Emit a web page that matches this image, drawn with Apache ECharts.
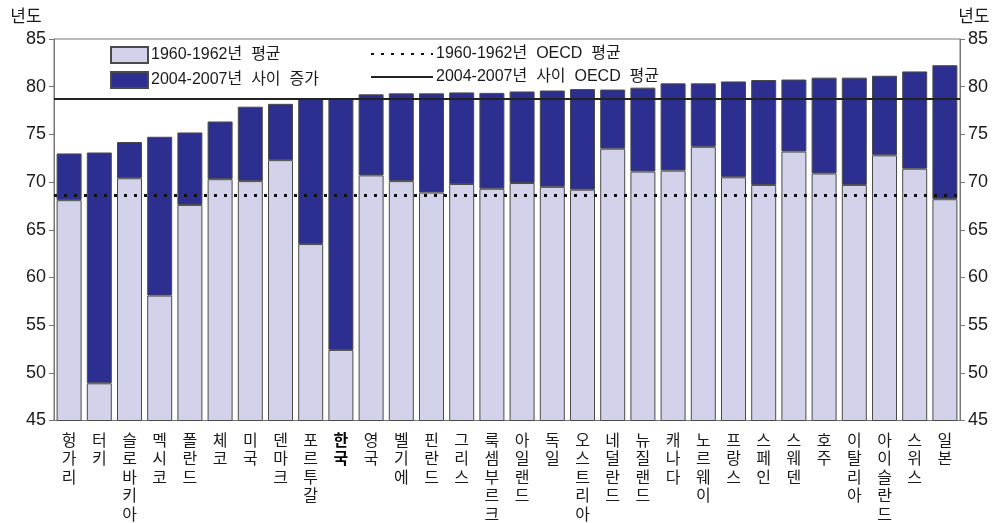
<!DOCTYPE html>
<html>
<head>
<meta charset="utf-8">
<script src="https://cdn.jsdelivr.net/npm/echarts@6/dist/echarts.min.js"></script>
<style>
  html, body { margin: 0; padding: 0; background: #fff; }
  #chart { width: 995px; height: 523px; }
</style>
</head>
<body>
<div id="chart"></div>
<script>
// OECD countries, sorted by life expectancy in 2004-2007
const countries = ['헝가리', '터키', '슬로바키아', '멕시코', '폴란드', '체코', '미국', '덴마크', '포르투갈', '한국',
  '영국', '벨기에', '핀란드', '그리스', '룩셈부르크', '아일랜드', '독일', '오스트리아', '네덜란드', '뉴질랜드',
  '캐나다', '노르웨이', '프랑스', '스페인', '스웨덴', '호주', '이탈리아', '아이슬란드', '스위스', '일본'];

// Life expectancy, 1960-1962 average (years)
const life1960 = [68.1, 48.9, 70.4, 58.1, 67.6, 70.3, 70.1, 72.3, 63.5, 52.4,
  70.7, 70.1, 68.9, 69.8, 69.3, 69.9, 69.5, 69.2, 73.5, 71.1,
  71.2, 73.7, 70.5, 69.7, 73.2, 70.9, 69.7, 72.8, 71.4, 68.2];

// Life expectancy, 2004-2007 (years)
const life2007 = [73.0, 73.1, 74.2, 74.75, 75.2, 76.35, 77.9, 78.2, 78.7, 78.8,
  79.2, 79.3, 79.3, 79.4, 79.35, 79.5, 79.6, 79.75, 79.7, 79.9,
  80.35, 80.35, 80.55, 80.7, 80.75, 80.95, 80.95, 81.15, 81.6, 82.25];

// OECD averages (years)
const oecd1960 = 68.6;
const oecd2007 = 78.7;

// Y-axis ticks
const yMin = 45, yMax = 85, yStep = 5;

const gain = life2007.map((v, i) => +(v - life1960[i]).toFixed(2));

const baseFont = '"Liberation Sans", "Noto Sans CJK KR", sans-serif';
const textColor = '#1a1a1a';

const chart = echarts.init(document.getElementById('chart'), null, { renderer: 'canvas' });

const yAxisCommon = {
  type: 'value',
  min: yMin, max: yMax, interval: yStep,
  name: '년도',
  nameLocation: 'end',
  nameGap: 13,
  nameTextStyle: { color: textColor, fontSize: 17, fontFamily: baseFont },
  axisLine: { show: true, lineStyle: { color: '#777', width: 1 } },
  axisTick: { show: true, length: 5, lineStyle: { color: '#777' } },
  axisLabel: { color: textColor, fontSize: 18, fontFamily: baseFont, margin: 8 },
  splitLine: { show: false }
};

const legendText = { color: textColor, fontSize: 16, fontFamily: baseFont, padding: [0, 0, 0, -2] };

chart.setOption({
  animation: false,
  backgroundColor: '#fff',
  textStyle: { fontFamily: baseFont },
  grid: {
    left: 54, right: 35, top: 39, bottom: 101,
    show: true, borderColor: '#777', borderWidth: 1, backgroundColor: 'transparent'
  },
  legend: [
    {
      data: [
        { name: '1960-1962년 평균', icon: 'rect' },
        { name: '2004-2007년 사이 증가', icon: 'rect' }
      ],
      formatter: name => name.replace(/ /g, '  '),
      orient: 'vertical',
      left: 105, top: 41,
      itemWidth: 37, itemHeight: 16, itemGap: 7,
      textStyle: legendText,
      selectedMode: false
    },
    {
      data: [
        { name: '1960-1962년 OECD 평균', itemStyle: { opacity: 0 } },
        { name: '2004-2007년 사이 OECD 평균', itemStyle: { opacity: 0 } }
      ],
      formatter: name => name.replace(/ /g, '  '),
      orient: 'vertical',
      left: 365, top: 41,
      itemWidth: 62, itemHeight: 16, itemGap: 7,
      textStyle: legendText,
      selectedMode: false
    }
  ],
  xAxis: {
    type: 'category',
    data: countries,
    axisLine: { show: true, lineStyle: { color: '#777' } },
    axisTick: { show: true, inside: true, alignWithLabel: true, length: 3, lineStyle: { color: '#777' } },
    axisLabel: {
      interval: 0,
      margin: 10,
      color: textColor,
      fontSize: 16,
      lineHeight: 18.5,
      fontFamily: '"Noto Sans CJK KR", sans-serif',
      formatter: function (name) {
        const stacked = name.split('').join('\n');
        return name === '한국' ? '{b|' + stacked + '}' : stacked;
      },
      rich: {
        b: { fontWeight: 'bold', fontSize: 16, lineHeight: 18.5, color: '#000', fontFamily: '"Noto Sans CJK KR", sans-serif' }
      }
    }
  },
  yAxis: [
    Object.assign({}, yAxisCommon, { position: 'left', nameTextStyle: Object.assign({}, yAxisCommon.nameTextStyle, { padding: [0, 56, 0, 0] }) }),
    Object.assign({}, yAxisCommon, { position: 'right', nameTextStyle: Object.assign({}, yAxisCommon.nameTextStyle, { padding: [0, 0, 0, 28] }) })
  ],
  series: [
    {
      name: '1960-1962년 평균',
      type: 'bar',
      stack: 'life',
      data: life1960,
      barWidth: 25,
      itemStyle: { color: '#d2d2ea', borderColor: '#4a4a4a', borderWidth: 1 }
    },
    {
      name: '2004-2007년 사이 증가',
      type: 'bar',
      stack: 'life',
      data: gain,
      barWidth: 25,
      itemStyle: { color: '#2c2f90', borderColor: '#4a4a4a', borderWidth: 1 },
      markLine: {
        silent: true,
        symbol: 'none',
        label: { show: false },
        data: [
          { yAxis: oecd1960, lineStyle: { color: '#111', width: 3, type: [3, 7] } },
          { yAxis: oecd2007, lineStyle: { color: '#222', width: 2, type: 'solid' } }
        ]
      }
    },
    {
      name: '1960-1962년 OECD 평균',
      type: 'line',
      data: [],
      symbol: 'none',
      itemStyle: { color: '#111' },
      lineStyle: { color: '#111', width: 3, type: [3, 7] }
    },
    {
      name: '2004-2007년 사이 OECD 평균',
      type: 'line',
      data: [],
      symbol: 'none',
      itemStyle: { color: '#222' },
      lineStyle: { color: '#222', width: 2, type: 'solid' }
    }
  ]
});
</script>
</body>
</html>
